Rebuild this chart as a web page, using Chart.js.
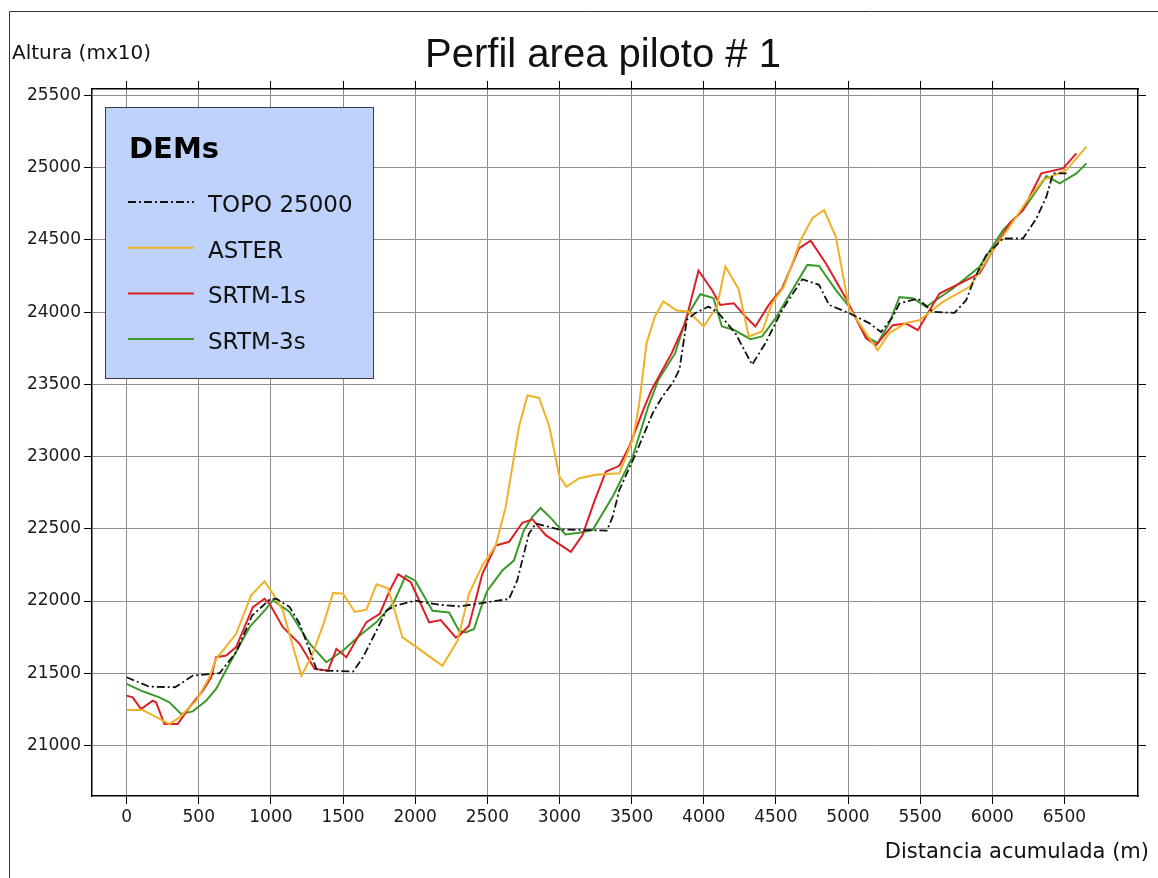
<!DOCTYPE html>
<html>
<head>
<meta charset="utf-8">
<title>Perfil area piloto # 1</title>
<script src="https://cdn.jsdelivr.net/npm/chart.js@4.4.1/dist/chart.umd.min.js"></script>
<style>
  html, body { margin: 0; padding: 0; background: #fff; }
  #wrap { width: 1158px; height: 878px; }
</style>
</head>
<body>
<div id="wrap"><canvas id="perfil" width="1158" height="878"></canvas></div>
<script>
// valores (distancia en m, altura en m x10)
const xTicks = [0, 500, 1000, 1500, 2000, 2500, 3000, 3500, 4000, 4500, 5000, 5500, 6000, 6500];
const yTicks = [21000, 21500, 22000, 22500, 23000, 23500, 24000, 24500, 25000, 25500];

const topoDist = [0, 157, 336, 460, 644, 759, 870, 991, 1037, 1130, 1199, 1269, 1315, 1384, 1570, 1639, 1732, 1801, 1870,
  2000, 2166, 2304, 2419, 2650, 2707, 2788, 2836, 3000, 3329, 3369, 3415, 3531, 3647, 3716, 3786, 3832, 3883, 3941,
  4034, 4103, 4219, 4335, 4428, 4544, 4683, 4799, 4869, 5008, 5147, 5229, 5310, 5356, 5484, 5588, 5738, 5819, 5877,
  5958, 6074, 6213, 6306, 6375, 6421, 6526];
const topoAlt = [21472, 21407, 21403, 21484, 21500, 21646, 21900, 22009, 22016, 21958, 21843, 21657, 21530, 21518, 21512, 21611, 21796, 21935, 21970,
  22002, 21974, 21963, 21979, 22014, 22141, 22465, 22537, 22495, 22488, 22584, 22769, 23024, 23303, 23419, 23512, 23604, 23947, 23993,
  24039, 23993, 23855, 23636, 23786, 24016, 24228, 24189, 24050, 23993, 23924, 23863, 23967, 24060, 24094, 24002, 23995, 24083, 24233,
  24395, 24510, 24510, 24649, 24799, 24961, 24961];

const asterDist = [0, 111, 200, 296, 366, 482, 574, 620, 667, 759, 863, 956, 1014, 1083, 1141, 1211, 1280, 1361, 1431, 1500,
  1581, 1662, 1732, 1813, 1912, 2028, 2189, 2293, 2373, 2465, 2558, 2627, 2720, 2778, 2859, 2929, 3000, 3049, 3137, 3253,
  3415, 3508, 3550, 3604, 3662, 3720, 3813, 3894, 3999, 4092, 4150, 4242, 4312, 4405, 4474, 4556, 4672, 4753, 4834, 4915,
  5008, 5124, 5206, 5286, 5403, 5495, 5657, 5843, 6005, 6120, 6236, 6352, 6514, 6653];
const asterAlt = [21245, 21245, 21200, 21148, 21194, 21310, 21472, 21600, 21657, 21773, 22039, 22137, 22051, 21935, 21727, 21484, 21611, 21831, 22056, 22051,
  21924, 21940, 22116, 22086, 21748, 21667, 21551, 21724, 22049, 22245, 22384, 22650, 23210, 23423, 23407, 23210, 22862, 22792, 22850, 22874,
  22885, 23117, 23345, 23786, 23970, 24074, 24011, 24004, 23901, 24039, 24316, 24159, 23832, 23866, 24062, 24177, 24500, 24650, 24707, 24523,
  24027, 23855, 23736, 23855, 23926, 23944, 24071, 24175, 24429, 24591, 24764, 24915, 24984, 25146];

const srtm1Dist = [0, 42, 100, 181, 204, 262, 354, 435, 528, 586, 620, 690, 759, 875, 956, 991, 1083, 1199, 1303, 1396,
  1454, 1523, 1662, 1755, 1824, 1882, 1970, 2097, 2177, 2281, 2304, 2373, 2465, 2558, 2651, 2743, 2813, 2905, 3079, 3160,
  3241, 3322, 3415, 3485, 3581, 3639, 3778, 3871, 3964, 4057, 4115, 4208, 4289, 4358, 4451, 4544, 4660, 4741, 4846, 4985,
  5124, 5194, 5310, 5403, 5484, 5634, 5773, 5912, 6005, 6120, 6213, 6340, 6491, 6583];
const srtm1Alt = [21345, 21333, 21252, 21310, 21299, 21148, 21148, 21264, 21380, 21472, 21611, 21623, 21681, 21958, 22016, 21981, 21819, 21704, 21530, 21518,
  21669, 21611, 21854, 21912, 22074, 22185, 22130, 21852, 21868, 21748, 21759, 21829, 22187, 22384, 22410, 22542, 22565, 22456, 22340, 22456,
  22688, 22897, 22936, 23071, 23324, 23463, 23716, 23924, 24288, 24154, 24050, 24062, 23970, 23901, 24050, 24166, 24442, 24495, 24339, 24097,
  23820, 23771, 23910, 23921, 23875, 24129, 24198, 24268, 24429, 24614, 24707, 24961, 24995, 25099];

const srtm3Dist = [0, 111, 227, 296, 377, 458, 551, 620, 713, 852, 968, 1014, 1130, 1269, 1384, 1500, 1616, 1732, 1847, 1935,
  2000, 2120, 2235, 2304, 2350, 2408, 2465, 2500, 2604, 2684, 2753, 2811, 2869, 2949, 3041, 3137, 3230, 3369, 3508, 3616,
  3686, 3802, 3883, 3976, 4068, 4126, 4208, 4324, 4405, 4498, 4614, 4718, 4799, 4915, 5008, 5124, 5206, 5286, 5356, 5449,
  5542, 5727, 5912, 6074, 6213, 6375, 6468, 6583, 6653];
const srtm3Alt = [21426, 21375, 21333, 21299, 21218, 21236, 21310, 21391, 21565, 21819, 21947, 22005, 21924, 21704, 21576, 21657, 21762, 21854, 21981, 22176,
  22141, 21933, 21921, 21794, 21782, 21806, 21979, 22072, 22211, 22280, 22488, 22581, 22644, 22565, 22461, 22472, 22491, 22723, 23001, 23348,
  23532, 23716, 23970, 24124, 24097, 23901, 23878, 23813, 23832, 23958, 24154, 24327, 24320, 24154, 24039, 23832, 23786, 23924, 24104, 24097,
  24037, 24164, 24314, 24568, 24707, 24942, 24891, 24961, 25030];

const seriesNames = ["TOPO 25000", "ASTER", "SRTM-1s", "SRTM-3s"];

const FONT = "'DejaVu Sans', Arial, sans-serif";

function toPoints(xs, ys) {
  return xs.map((x, i) => ({ x: x, y: ys[i] }));
}

// textos, marco exterior y leyenda "DEMs"
const decorPlugin = {
  id: "decor",
  afterDraw(chart) {
    const ctx = chart.ctx;
    ctx.save();

    ctx.strokeStyle = "#333";
    ctx.lineWidth = 1;
    ctx.beginPath();
    ctx.moveTo(9.5, 900);
    ctx.lineTo(9.5, 11.5);
    ctx.lineTo(1170, 11.5);
    ctx.stroke();

    ctx.fillStyle = "#111";
    ctx.font = "40px 'Liberation Sans', Arial, sans-serif";
    ctx.textAlign = "center";
    ctx.textBaseline = "alphabetic";
    ctx.fillText("Perfil area piloto # 1", 603, 67);

    ctx.font = "20px " + FONT;
    ctx.textAlign = "left";
    ctx.fillText("Altura (mx10)", 12, 59);

    ctx.font = "21px " + FONT;
    ctx.textAlign = "right";
    ctx.fillText("Distancia acumulada (m)", 1149, 858);

    // leyenda
    const bx = 105, by = 107, bw = 268, bh = 271;
    ctx.fillStyle = "#bfd2fb";
    ctx.fillRect(bx, by, bw, bh);
    ctx.strokeStyle = "#3c3c3c";
    ctx.strokeRect(bx + 0.5, by + 0.5, bw, bh);

    ctx.fillStyle = "#000";
    ctx.textAlign = "left";
    ctx.font = "bold 29px " + FONT;
    ctx.fillText("DEMs", 129, 158);

    ctx.font = "23px " + FONT;
    chart.data.datasets.forEach((ds, i) => {
      const yLine = 202 + i * 45.7;
      ctx.save();
      ctx.strokeStyle = ds.borderColor;
      ctx.lineWidth = ds.borderWidth;
      ctx.setLineDash(ds.borderDash || []);
      ctx.beginPath();
      ctx.moveTo(128, yLine);
      ctx.lineTo(194, yLine);
      ctx.stroke();
      ctx.restore();
      ctx.fillStyle = "#111";
      ctx.fillText(ds.label, 208, yLine + 10);
    });

    ctx.restore();
  }
};

const gridGray = "#8e8e8e";

function mainAxis(ticksList, min, max, extra) {
  return Object.assign({
    type: "linear",
    min: min,
    max: max,
    afterBuildTicks: (scale) => { scale.ticks = ticksList.map(v => ({ value: v })); },
    grid: { color: gridGray, lineWidth: 1, tickColor: "#000", tickLength: 8, drawTicks: true },
    border: { color: "#000", width: 1.5 },
    ticks: {
      font: { family: FONT, size: 17 },
      color: "#1a1a1a",
      autoSkip: false,
      maxRotation: 0,
      callback: (v) => String(v)
    }
  }, extra);
}

function frameAxis(ticksList, min, max, position, extra) {
  return Object.assign({
    type: "linear",
    position: position,
    min: min,
    max: max,
    afterBuildTicks: (scale) => { scale.ticks = ticksList.map(v => ({ value: v })); },
    grid: { drawOnChartArea: false, tickColor: "#000", tickLength: 8, drawTicks: true },
    border: { color: "#000", width: 1.5 },
    ticks: { display: false }
  }, extra);
}

const X_MIN = -240, X_MAX = 7010, Y_MIN = 20650, Y_MAX = 25545;

const ctx = document.getElementById("perfil").getContext("2d");
new Chart(ctx, {
  type: "line",
  data: {
    datasets: [
      { label: seriesNames[0], data: toPoints(topoDist, topoAlt), borderColor: "#111111", borderWidth: 1.8, borderDash: [8, 3, 2, 3] },
      { label: seriesNames[1], data: toPoints(asterDist, asterAlt), borderColor: "#efb126", borderWidth: 2 },
      { label: seriesNames[2], data: toPoints(srtm1Dist, srtm1Alt), borderColor: "#dc1f26", borderWidth: 2 },
      { label: seriesNames[3], data: toPoints(srtm3Dist, srtm3Alt), borderColor: "#3c9a2c", borderWidth: 2 }
    ]
  },
  options: {
    responsive: false,
    animation: false,
    devicePixelRatio: 1,
    layout: { padding: { left: 0, right: 12, top: 81, bottom: 0 } },
    elements: { point: { radius: 0 }, line: { tension: 0, fill: false } },
    scales: {
      x: mainAxis(xTicks, X_MIN, X_MAX, {
        position: "bottom",
        afterFit: (scale) => { scale.height = 82; }
      }),
      y: mainAxis(yTicks, Y_MIN, Y_MAX, {
        position: "left",
        afterFit: (scale) => { scale.width = 92; }
      }),
      xTop: frameAxis(xTicks, X_MIN, X_MAX, "top", { afterFit: (scale) => { scale.height = 8; } }),
      yRight: frameAxis(yTicks, Y_MIN, Y_MAX, "right", { afterFit: (scale) => { scale.width = 8; } })
    },
    plugins: {
      legend: { display: false },
      tooltip: { enabled: false },
      title: { display: false }
    }
  },
  plugins: [decorPlugin]
});
</script>
</body>
</html>
